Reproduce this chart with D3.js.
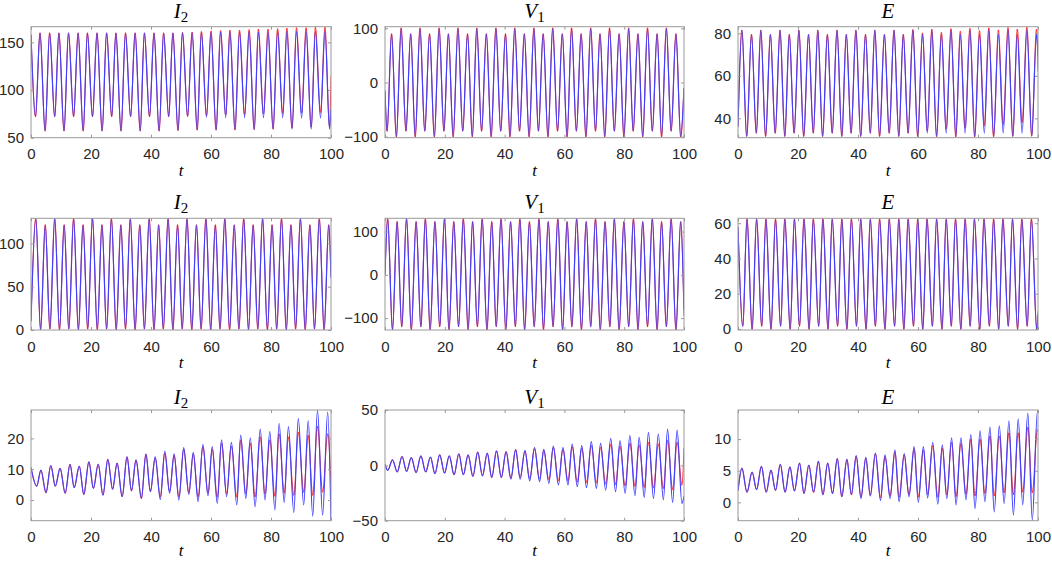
<!DOCTYPE html>
<html><head><meta charset="utf-8">
<script src="https://cdn.jsdelivr.net/npm/d3@7/dist/d3.min.js"></script>
<style>body{margin:0;background:#fff}</style>
</head><body><svg id="c" width="1052" height="563"></svg>
<script>
// ---------- shared tick labels ----------
const xTicks = [0, 20, 40, 60, 80, 100];

// ---------- Row 1 : I2 ----------
const r1I2T = [0,1.5,3.0,4.7,6.2,7.9,9.3,11.0,12.5,14.2,15.7,17.4,18.8,20.5,22.0,23.7,25.2,26.9,28.3,30.0,31.5,33.2,34.7,36.4,37.8,39.5,41.0,42.7,44.2,45.9,47.3,49.0,50.5,52.2,53.7,55.4,56.8,58.5,60.0,61.7,63.2,64.9,66.3,68.0,69.5,71.2,72.7,74.4,75.8,77.5,79.0,80.7,82.2,83.9,85.3,87.0,88.5,90.2,91.7,93.4,94.8,96.5,98.0,99.5,100];
const r1I2B = [158,72,160,57,160,72,160,57,160,72,160,57,160,72,160,57,160,72,160,57,160,72,160,57,160,72,160,57,160,72,160,57.5,160,72,160,58,160.5,71.5,160.5,58,161,71,161,58.5,161,71,161,58.5,161,71,161,59,161.5,71,161.5,59,161.5,70.5,161.5,59,161.5,70.5,161.5,59,80];
const r1I2R = [158,72,160,57,160,72,160,57,160,72,160,57,160,72,160,57,160,72,160,57,160,72,160,57,160,72,160,57,160,72,160,57.5,160.5,72.5,161,58,161.5,73,162,58,162.5,74,163,58,163,74.5,163.5,58.5,164,75,164,59,164.5,75.5,165,60,165.5,76,165.5,61,166,76.5,166,62,115];
const r1I2Ticks = [50, 100, 150];

// ---------- Row 1 : V1 ----------
const r1V1T = [0,0.7,2.2,3.8,5.4,7.0,8.6,10.1,11.7,13.3,14.9,16.5,18.1,19.7,21.2,22.8,24.4,26.0,27.6,29.2,30.7,32.3,33.9,35.5,37.1,38.7,40.3,41.8,43.4,45.0,46.6,48.2,49.8,51.3,52.9,54.5,56.1,57.7,59.3,60.9,62.4,64.0,65.6,67.2,68.8,70.4,71.9,73.5,75.1,76.7,78.3,79.9,81.5,83.0,84.6,86.2,87.8,89.4,91.0,92.5,94.1,95.7,97.3,98.9,100];
const r1V1B = [-15,-90,90,-99,99,-90,90,-99,99,-90,90,-99,99,-90,90,-99,99,-90,90,-99,99,-90,90,-99,99,-90,90,-99,99,-90,90,-99,99,-90,90,-99,99,-90,90,-99,99,-90,90,-99,99,-90,90,-99,99,-90,90,-99,99,-90,90,-99,99,-90,90,-99,99,-90,90,-99,-10];
const r1V1R = [-15,-90,90,-101,101,-90,90,-101,101,-90,90,-101,101,-90,90,-101,101,-90,90,-101,101,-90,90,-101,101,-90,90,-101,101,-90,90,-101,101,-90,90,-101,101,-90,90,-101,101,-90,90,-101,101,-90,90,-101,101,-90,90,-101,101,-90,90,-101,101,-90,90,-101,101,-90,90,-101,-10];
const r1V1Ticks = [-100, 0, 100];

// ---------- Row 1 : E ----------
const r1ET = [0,1.3,2.9,4.5,6.1,7.6,9.2,10.8,12.4,14.0,15.6,17.1,18.7,20.3,21.9,23.5,25.1,26.6,28.2,29.8,31.4,33.0,34.6,36.1,37.7,39.3,40.9,42.5,44.1,45.6,47.2,48.8,50.4,52.0,53.6,55.1,56.7,58.3,59.9,61.5,63.1,64.6,66.2,67.8,69.4,71.0,72.6,74.1,75.7,77.3,78.9,80.5,82.1,83.6,85.2,86.8,88.4,90.0,91.6,93.1,94.7,96.3,97.9,99.5,100];
const r1EB = [36,81.5,31.5,79.5,33,81.5,31.5,79.5,33,81.5,31.5,79.5,33,81.5,31.5,79.5,33,81.5,31.5,79.5,33,81.5,31.5,79.5,33,81.5,31.5,79.5,33,81.5,31.5,79.5,33,81.5,31.5,79.5,33,81.5,31.5,79.5,33,81.5,31.5,79.5,33,81.5,31.5,79.5,33,81.5,31.5,79.5,33,81.5,31.5,79.5,33,81.5,31.5,79.5,33,81.5,31.5,79.5,70];
const r1ER = [36,81.5,31.5,79.5,33,81.5,31.5,79.5,33,81.5,31.5,79.5,33,81.5,31.5,79.5,33,81.5,31.5,79.5,33,81.5,31.5,79.5,33,81.5,31.5,79.5,33,81.5,31.5,79.5,33,81.5,31.5,79.5,33,81.8,31.5,80.2,34,82,31.3,80.5,35,82.2,31.2,81,35.5,82.4,31.2,81.3,36.5,82.6,31.3,81.6,37,82.8,31.5,82,38,82.9,31.8,82,62];
const r1ETicks = [40, 60, 80];

// ---------- Row 2 : I2 ----------
const r2I2T = [0,1.6,3.2,4.75,6.3,7.9,9.5,11.05,12.6,14.2,15.8,17.35,18.9,20.5,22.1,23.65,25.2,26.8,28.4,29.95,31.5,33.1,34.7,36.25,37.8,39.4,41.0,42.55,44.1,45.7,47.3,48.85,50.4,52.0,53.6,55.15,56.7,58.3,59.9,61.45,63.0,64.6,66.2,67.75,69.3,70.9,72.5,74.05,75.6,77.2,78.8,80.35,81.9,83.5,85.1,86.65,88.2,89.8,91.4,92.95,94.5,96.1,97.7,99.25,100];
const r2I2B = [10,128.5,0.3,121,1.3,128.5,0.3,121,1.3,128.5,0.3,121,1.3,128.5,0.3,121,1.3,128.5,0.3,121,1.3,128.5,0.3,121,1.3,128.5,0.3,121,1.3,128.5,0.3,121,1.3,128.5,0.3,121,1.3,128.5,0.3,121,1.3,128.5,0.3,121,1.3,128.5,0.3,121,1.3,128.5,0.3,121,1.3,128.5,0.3,121,1.3,128.5,0.3,121,1.3,128.5,0.3,121,60];
const r2I2R = [10,128.8,0.0,121.5,1.0,128.8,0.0,121.5,1.0,128.8,0.0,121.5,1.0,128.8,0.0,121.5,1.0,128.8,0.0,121.5,1.0,128.8,0.0,121.5,1.0,128.8,0.0,121.5,1.0,128.8,0.0,121.5,1.0,128.8,0.0,121.5,1.0,128.8,0.0,121.5,1.0,128.8,0.0,121.5,1.0,128.8,0.0,121.5,1.0,128.8,0.0,121.5,1.0,128.8,0.0,121.5,1.0,128.8,0.0,121.5,1.0,128.8,0.0,121.5,62];
const r2I2Ticks = [0, 50, 100];

// ---------- Row 2 : V1 ----------
const r2V1T = [0,0.9,2.5,4.05,5.6,7.2,8.8,10.4,12.0,13.5,15.1,16.7,18.3,19.9,21.4,23.0,24.6,26.2,27.8,29.3,30.9,32.5,34.1,35.7,37.2,38.8,40.4,42.0,43.6,45.1,46.7,48.3,49.9,51.5,53.0,54.6,56.2,57.8,59.4,60.9,62.5,64.1,65.7,67.3,68.8,70.4,72.0,73.6,75.2,76.7,78.3,79.9,81.5,83.1,84.6,86.2,87.8,89.4,91.0,92.5,94.1,95.7,97.3,98.9,100];
const r2V1B = [0,130,-127,123,-120,130,-127,123,-120,130,-127,123,-120,130,-127,123,-120,130,-127,123,-120,130,-127,123,-120,130,-127,123,-120,130,-127,123,-120,130,-127,123,-120,130,-127,123,-120,130,-127,123,-120,130,-127,123,-120,130,-127,123,-120,130,-127,123,-120,130,-127,123,-120,130,-127,123,-80];
const r2V1R = [0,130.5,-127.5,123,-120,130.5,-127.5,123,-120,130.5,-127.5,123,-120,130.5,-127.5,123,-120,130.5,-127.5,123,-120,130.5,-127.5,123,-120,130.5,-127.5,123,-120,130.5,-127.5,123,-120,130.5,-127.5,123,-120,130.5,-127.5,123,-120,130.5,-127.5,123,-120,130.5,-127.5,123,-120,130.5,-127.5,123,-120,130.5,-127.5,123,-120,130.5,-127.5,123,-120,130.5,-127.5,123,-95];
const r2V1Ticks = [-100, 0, 100];

// ---------- Row 2 : E ----------
const r2ET = [0,1.6,3.0,4.7,6.2,7.9,9.3,11.0,12.5,14.2,15.6,17.4,18.8,20.5,22.0,23.7,25.1,26.9,28.3,30.0,31.4,33.2,34.6,36.3,37.8,39.5,40.9,42.7,44.1,45.8,47.2,49.0,50.4,52.2,53.6,55.3,56.7,58.5,59.9,61.6,63.0,64.8,66.2,68.0,69.4,71.1,72.5,74.3,75.7,77.4,78.8,80.6,82.0,83.8,85.2,86.9,88.3,90.1,91.5,93.2,94.6,96.4,97.8,99.6,100];
const r2EB = [58,1.3,62.4,-0.3,62.4,1.3,62.4,-0.3,62.4,1.3,62.4,-0.3,62.4,1.3,62.4,-0.3,62.4,1.3,62.4,-0.3,62.4,1.3,62.4,-0.3,62.4,1.3,62.4,-0.3,62.4,1.3,62.4,-0.3,62.4,1.3,62.4,-0.3,62.4,1.3,62.4,-0.3,62.4,1.3,62.4,-0.3,62.4,1.3,62.4,-0.3,62.4,1.3,62.4,-0.3,62.4,1.3,62.4,-0.3,62.4,1.3,62.4,-0.3,62.4,1.3,62.4,-0.3,8];
const r2ER = [58,1.6,62.6,-0.2,62.6,1.6,62.6,-0.2,62.6,1.6,62.6,-0.2,62.6,1.6,62.6,-0.2,62.6,1.6,62.6,-0.2,62.6,1.6,62.6,-0.2,62.6,1.6,62.6,-0.2,62.6,1.6,62.6,-0.2,62.6,1.6,62.6,-0.2,62.6,1.6,62.6,-0.2,62.6,1.6,62.6,-0.2,62.6,1.6,62.6,-0.2,62.6,1.6,62.6,-0.2,62.6,1.6,62.6,-0.2,62.6,1.6,62.6,-0.2,62.6,1.6,62.6,-0.2,10];
const r2ETicks = [0, 20, 40, 60];

// ---------- Row 3 : I2 ----------
const r3I2T = [0,1.9,3.3,5.0,6.6,8.1,9.7,11.4,13.0,14.4,16.1,17.6,19.3,20.8,22.4,24.0,25.6,27.2,28.7,30.4,32.0,33.5,35.0,36.8,38.3,39.8,41.4,43.1,44.6,46.2,47.7,49.3,50.9,52.6,54.1,55.7,57.3,59.0,60.4,62.1,63.5,65.2,66.8,68.6,69.9,71.6,73.1,74.7,76.4,78.0,79.6,81.3,82.7,84.4,85.8,87.6,89.1,90.9,92.4,93.9,95.5,97.2,98.9,100];
const r3I2B = [10.5,4.5,9.7,2.4,11.2,4.5,10.3,2.2,11.6,4.0,11.0,1.8,12.4,3.8,11.6,1.6,13.2,3.5,12.0,1.1,14.0,3.0,13.0,0.5,14.9,2.7,14.0,0.2,15.9,2.2,15.0,0.0,17.0,1.8,15.5,-0.5,18.1,1.4,17.3,-1.1,19.5,1.1,18.7,-1.6,21.1,0.5,20.2,-2.2,23.0,0.0,22.2,-3.2,24.9,-0.8,23.8,-4.0,26.5,-1.6,25.8,-5.2,29.2,-4.9,28.5,-6.5];
const r3I2R = [10.5,4.5,9.7,2.4,11.2,4.5,10.3,2.2,11.6,4.0,11.0,1.8,12.4,3.8,11.6,1.6,13.2,3.5,12.0,1.1,14.0,3.0,13.0,0.5,14.9,2.8,13.6,1.0,15.2,2.8,14.5,1.0,16.5,2.4,15.0,1.0,17.3,2.2,16.5,0.9,18.5,2.0,17.5,0.9,19.5,2.0,18.5,1.0,20.5,2.0,19.5,1.2,21.5,2.2,20.5,1.5,22.0,2.5,21.0,1.5,24.0,2.5,21.5,5.0];
const r3I2Ticks = [0, 10, 20];

// ---------- Row 3 : V1 ----------
const r3V1T = [0,0.9,2.5,4.1,5.7,7.2,8.8,10.4,12.0,13.6,15.2,16.7,18.3,19.9,21.5,23.1,24.7,26.2,27.8,29.4,31.0,32.6,34.2,35.7,37.3,38.9,40.5,42.1,43.7,45.2,46.8,48.4,50.0,51.7,53.1,54.8,56.3,58.0,59.5,61.2,62.6,64.3,65.8,67.4,69.0,70.7,72.1,73.8,75.5,77.1,78.6,80.3,81.9,83.6,85.0,86.7,88.1,89.8,91.4,93.1,94.5,96.2,97.7,99.3,100];
const r3V1B = [1,-4.5,5.0,-6.0,8.0,-5.5,7.0,-6.5,8.5,-6.0,7.5,-7.5,9.5,-7.0,8.5,-8.5,10.5,-8.5,9.5,-10.0,12.0,-9.5,11.0,-11.0,13.0,-11.0,12.5,-12.5,14.5,-12.5,13.5,-14.0,16.0,-14.7,14.5,-16.2,17.5,-17.7,16.0,-17.7,19.3,-19.2,17.8,-20.1,21.4,-20.8,19.9,-22.3,24.4,-23.8,22.3,-25.3,26.8,-27.4,25.3,-28.9,29.8,-29.8,28.3,-31.3,32.8,-33.4,31.9,-34.3,-28];
const r3V1R = [1,-4.5,5.0,-6.0,8.0,-5.5,7.0,-6.5,8.5,-6.0,7.5,-7.5,9.5,-7.0,8.5,-8.5,10.5,-8.5,9.5,-10.0,12.0,-9.5,11.0,-11.0,13.0,-11.0,12.5,-11.5,14.0,-11.0,13.0,-12.0,15.0,-12.5,13.5,-13.0,16.0,-14.0,14.5,-14.0,17.0,-15.0,15.5,-15.5,18.0,-16.0,16.5,-17.0,19.0,-17.5,17.5,-18.5,20.0,-19.0,18.5,-20.0,21.0,-20.5,19.5,-21.0,22.5,-22.0,21.0,-18.0,16.0];
const r3V1Ticks = [-50, 0, 50];

// ---------- Row 3 : E ----------
const r3ET = [0,1.3,3.0,4.7,6.2,7.8,9.4,11.0,12.5,14.1,15.7,17.3,18.8,20.5,22.0,23.6,25.2,26.8,28.3,29.9,31.5,33.1,34.6,36.3,37.8,39.4,41.0,42.6,44.1,45.8,47.5,49.0,50.7,52.3,53.7,55.4,57.0,58.7,60.1,61.8,63.2,64.9,66.6,68.1,69.6,71.2,72.7,74.3,76.0,77.6,79.0,80.7,82.3,84.0,85.4,87.1,88.7,90.3,91.8,93.4,94.9,96.6,98.1,99.8,100];
const r3EB = [1.8,5.4,1.6,4.8,2.0,5.7,1.6,5.1,1.9,6.0,1.6,5.6,1.8,6.2,1.4,5.9,1.6,6.5,1.2,6.2,1.4,6.9,0.9,6.8,1.2,7.4,0.6,7.1,1.0,7.8,0.3,7.5,0.6,8.3,0.1,7.7,0.9,8.8,0.0,8.8,0.7,9.5,-0.3,9.1,0.6,10.2,-0.4,10.2,0.4,10.7,-1.0,11.3,0.1,11.9,-1.5,12.1,-0.2,12.9,-2.0,13.2,-0.4,14.1,-2.8,14.4,14.3];
const r3ER = [1.8,5.4,1.6,4.8,2.0,5.7,1.6,5.1,1.9,6.0,1.6,5.6,1.8,6.2,1.4,5.9,1.6,6.5,1.2,6.2,1.4,6.9,0.9,6.8,1.2,7.3,0.8,7.0,1.1,7.7,0.7,7.3,1.0,8.0,0.8,7.5,1.2,8.5,0.8,8.3,1.2,9.0,0.8,8.6,1.2,9.5,0.9,9.3,1.3,10.0,1.0,10.0,1.4,10.5,1.0,10.5,1.5,11.0,1.2,11.0,1.6,11.9,1.5,11.5,11.3];
const r3ETicks = [0, 5, 10];

// ---------- panel table built from the arrays ----------
const panels = [
  {T:r1I2T, B:r1I2B, R:r1I2R, dom:[50,166.5],   ticks:r1I2Ticks, name:"I", sub:"2", row:0, col:0},
  {T:r1V1T, B:r1V1B, R:r1V1R, dom:[-102,103],   ticks:r1V1Ticks, name:"V", sub:"1", row:0, col:1},
  {T:r1ET,  B:r1EB,  R:r1ER,  dom:[30.9,83.1],  ticks:r1ETicks,  name:"E", sub:"",  row:0, col:2},
  {T:r2I2T, B:r2I2B, R:r2I2R, dom:[0,128.9],    ticks:r2I2Ticks, name:"I", sub:"2", row:1, col:0},
  {T:r2V1T, B:r2V1B, R:r2V1R, dom:[-127.5,130.7], ticks:r2V1Ticks, name:"V", sub:"1", row:1, col:1},
  {T:r2ET,  B:r2EB,  R:r2ER,  dom:[-0.6,62.8],  ticks:r2ETicks,  name:"E", sub:"",  row:1, col:2},
  {T:r3I2T, B:r3I2B, R:r3I2R, dom:[-6.7,29.2],  ticks:r3I2Ticks, name:"I", sub:"2", row:2, col:0},
  {T:r3V1T, B:r3V1B, R:r3V1R, dom:[-50,50],     ticks:r3V1Ticks, name:"V", sub:"1", row:2, col:1},
  {T:r3ET,  B:r3EB,  R:r3ER,  dom:[-2.9,14.6],  ticks:r3ETicks,  name:"E", sub:"",  row:2, col:2}
];

// ---------- layout ----------
const colX = [[31,331],[385,684],[738,1038]];
const rowY = [[26.7,137.7],[218.3,330],[410,520.7]];
const titleY = [18, 209, 404];
const xlabY = [176, 368, 556];
const boxColor = "#9a9a9a", txtColor = "#262626";
const tickFont = "'Liberation Sans', Arial, Helvetica, sans-serif";
const serif = "'Liberation Serif', 'Times New Roman', serif";

const svg = d3.select("#c");
svg.append("rect").attr("width",1052).attr("height",563).attr("fill","#fff");

panels.forEach((p,i) => {
  const [x0,x1] = colX[p.col], [y0,y1] = rowY[p.row];
  const x = d3.scaleLinear().domain([0,100]).range([x0,x1]);
  const y = d3.scaleLinear().domain(p.dom).range([y1,y0]);
  const g = svg.append("g");

  g.append("clipPath").attr("id","cp"+i).append("rect")
    .attr("x",x0).attr("y",y0).attr("width",x1-x0).attr("height",y1-y0);

  const line = d3.line().x((d,j)=>x(p.T[j])).y(d=>y(d)).curve(d3.curveMonotoneX);
  const lg = g.append("g").attr("clip-path",`url(#cp${i})`);
  lg.append("path").attr("d",line(p.R)).attr("fill","none")
    .attr("stroke","#ff1a1a").attr("stroke-width",0.9);
  lg.append("path").attr("d",line(p.B)).attr("fill","none")
    .attr("stroke","#4040ff").attr("stroke-width",1.2);

  // axes
  const bottom = d3.axisBottom(x).tickValues(xTicks).tickSizeInner(-3).tickSizeOuter(0).tickPadding(11).tickFormat(d3.format("d"));
  const top = d3.axisTop(x).tickValues(xTicks).tickSizeInner(-3).tickSizeOuter(0).tickFormat("");
  const left = d3.axisLeft(y).tickValues(p.ticks).tickSizeInner(-3).tickSizeOuter(0).tickPadding(7).tickFormat(d3.format("d"));
  const right = d3.axisRight(y).tickValues(p.ticks).tickSizeInner(-3).tickSizeOuter(0).tickFormat("");

  const axes = [
    g.append("g").attr("transform",`translate(0,${y1})`).call(bottom),
    g.append("g").attr("transform",`translate(0,${y0})`).call(top),
    g.append("g").attr("transform",`translate(${x0},0)`).call(left),
    g.append("g").attr("transform",`translate(${x1},0)`).call(right)
  ];
  axes.forEach(a => {
    a.select(".domain").remove();
    a.selectAll(".tick line").attr("stroke",boxColor).attr("stroke-width",1);
    a.selectAll(".tick text").attr("fill",txtColor).style("font-family",tickFont).style("font-size","15px");
  });

  g.append("rect").attr("x",x0).attr("y",y0).attr("width",x1-x0).attr("height",y1-y0)
    .attr("fill","none").attr("stroke",boxColor).attr("stroke-width",1);

  // title
  const t = g.append("text").attr("x",(x0+x1)/2).attr("y",titleY[p.row])
    .attr("text-anchor","middle").attr("fill","#000").style("font-family",serif).style("font-size","21px");
  t.append("tspan").style("font-style","italic").text(p.name);
  if (p.sub) t.append("tspan").attr("dy",4).style("font-size","15px").text(p.sub);

  // x label
  g.append("text").attr("x",(x0+x1)/2).attr("y",xlabY[p.row]).attr("text-anchor","middle")
    .attr("fill","#000").style("font-family",serif).style("font-style","italic").style("font-size","17px").text("t");
});
</script></body></html>
